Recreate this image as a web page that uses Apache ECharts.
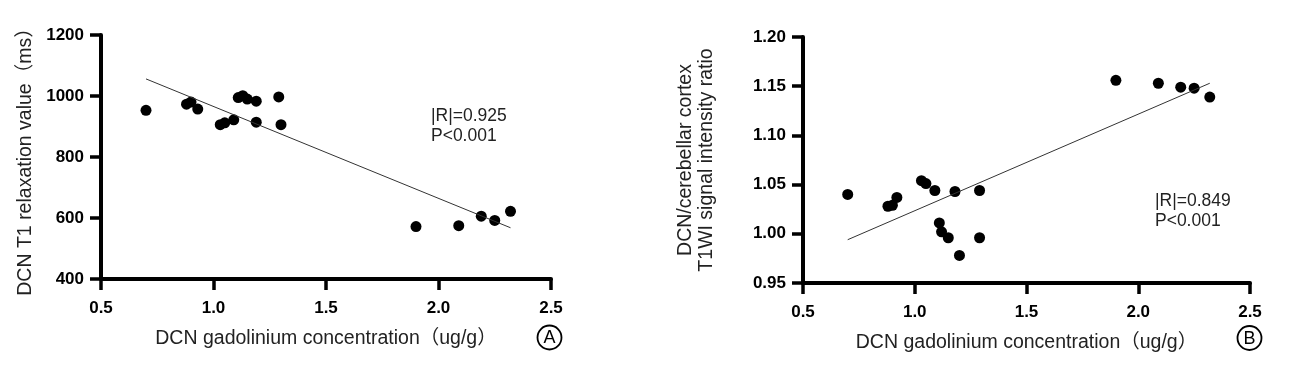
<!DOCTYPE html>
<html lang="en">
<head>
    <meta charset="UTF-8">
    <title>DCN gadolinium concentration</title>
    <script src="https://cdn.jsdelivr.net/npm/echarts/dist/echarts.min.js"></script>
</head>
<body style="margin: 0; background: #fff">
    <div id="chart" style="width: 1303px; height: 382px;"></div>
    <script>
        // panel A: gadolinium vs T1 relaxation
        const gdA = [0.70, 0.88, 0.90, 0.93, 1.03, 1.05, 1.09, 1.11, 1.13, 1.15, 1.19, 1.19, 1.29, 1.30, 1.90, 2.09, 2.19, 2.25, 2.32];
        const t1A = [953, 973, 980, 957, 906, 912, 922, 995, 1001, 990, 983, 914, 997, 906, 572, 575, 606, 592, 622];
        const fitA = [[0.70, 1056], [2.32, 568]];

        // panel B: gadolinium vs signal intensity ratio
        const gdB = [0.70, 0.88, 0.90, 0.92, 1.03, 1.05, 1.09, 1.18, 1.29, 1.11, 1.12, 1.15, 1.20, 1.29, 1.90, 2.09, 2.19, 2.25, 2.32];
        const ratioB = [1.040, 1.028, 1.029, 1.037, 1.054, 1.051, 1.044, 1.043, 1.044, 1.011, 1.002, 0.996, 0.978, 0.996, 1.156, 1.153, 1.149, 1.148, 1.139];
        const fitB = [[0.70, 0.994], [2.32, 1.153]];

        const font = '"Liberation Sans", Arial, "Noto Sans CJK SC", sans-serif';
        const xName = 'DCN gadolinium concentration（ug/g）';

        const zip = (xs, ys) => xs.map((x, i) => [x, ys[i]]);

        const axisLine = { lineStyle: { color: '#000', width: 4 } };
        const axisTick = { length: 11, lineStyle: { color: '#000', width: 3.5 } };
        const tickLabel = { color: '#000', fontWeight: 'bold', fontSize: 17, fontFamily: font };
        const nameStyle = { color: '#222', fontSize: 19.5, fontFamily: font, lineHeight: 21 };

        function xAxis(grid) {
            return {
                type: 'value', gridIndex: grid, min: 0.5, max: 2.5, interval: 0.5,
                name: xName, nameLocation: 'middle', nameGap: 49, nameTextStyle: nameStyle,
                axisLine: axisLine, axisTick: axisTick, splitLine: { show: false },
                axisLabel: Object.assign({ margin: 21, formatter: v => v.toFixed(1) }, tickLabel)
            };
        }

        const chart = echarts.init(document.getElementById('chart'));

        chart.setOption({
            animation: false,
            grid: [
                { left: 101, top: 35, width: 450, height: 244 },
                { left: 803, top: 37, width: 447, height: 246 }
            ],
            xAxis: [xAxis(0), xAxis(1)],
            yAxis: [
                {
                    type: 'value', gridIndex: 0, min: 400, max: 1200, interval: 200,
                    name: 'DCN T1 relaxation value（ms）', nameLocation: 'middle', nameGap: 65,
                    nameTextStyle: nameStyle,
                    axisLine: axisLine, axisTick: axisTick, splitLine: { show: false },
                    axisLabel: Object.assign({ margin: 17, formatter: v => String(v) }, tickLabel)
                },
                {
                    type: 'value', gridIndex: 1, min: 0.95, max: 1.20, interval: 0.05,
                    name: 'DCN/cerebellar cortex\nT1WI signal intensity ratio', nameLocation: 'middle', nameGap: 86,
                    nameTextStyle: nameStyle,
                    axisLine: axisLine, axisTick: axisTick, splitLine: { show: false },
                    axisLabel: Object.assign({ margin: 17, formatter: v => v.toFixed(2) }, tickLabel)
                }
            ],
            series: [
                {
                    type: 'line', xAxisIndex: 0, yAxisIndex: 0, data: fitA,
                    symbol: 'none', lineStyle: { color: '#333', width: 1 }
                },
                {
                    type: 'scatter', xAxisIndex: 0, yAxisIndex: 0, data: zip(gdA, t1A),
                    symbolSize: 11, itemStyle: { color: '#000', opacity: 1 }
                },
                {
                    type: 'line', xAxisIndex: 1, yAxisIndex: 1, data: fitB,
                    symbol: 'none', lineStyle: { color: '#333', width: 1 }
                },
                {
                    type: 'scatter', xAxisIndex: 1, yAxisIndex: 1, data: zip(gdB, ratioB),
                    symbolSize: 11, itemStyle: { color: '#000', opacity: 1 }
                }
            ],
            graphic: [
                {
                    type: 'text', left: 431, top: 106,
                    style: { text: '|R|=0.925\nP<0.001', fill: '#222', font: '17.5px ' + font, lineHeight: 20 }
                },
                {
                    type: 'text', left: 1155, top: 191,
                    style: { text: '|R|=0.849\nP<0.001', fill: '#222', font: '17.5px ' + font, lineHeight: 20 }
                },
                {
                    type: 'circle', shape: { cx: 549.5, cy: 337.5, r: 12 },
                    style: { fill: 'none', stroke: '#000', lineWidth: 1.8 }
                },
                {
                    type: 'text', x: 549.5, y: 338.5,
                    style: { text: 'A', fill: '#000', font: '18px ' + font, align: 'center', verticalAlign: 'middle' }
                },
                {
                    type: 'circle', shape: { cx: 1249.5, cy: 338, r: 12 },
                    style: { fill: 'none', stroke: '#000', lineWidth: 1.8 }
                },
                {
                    type: 'text', x: 1249.5, y: 339,
                    style: { text: 'B', fill: '#000', font: '18px ' + font, align: 'center', verticalAlign: 'middle' }
                }
            ]
        });
    </script>
</body>
</html>
